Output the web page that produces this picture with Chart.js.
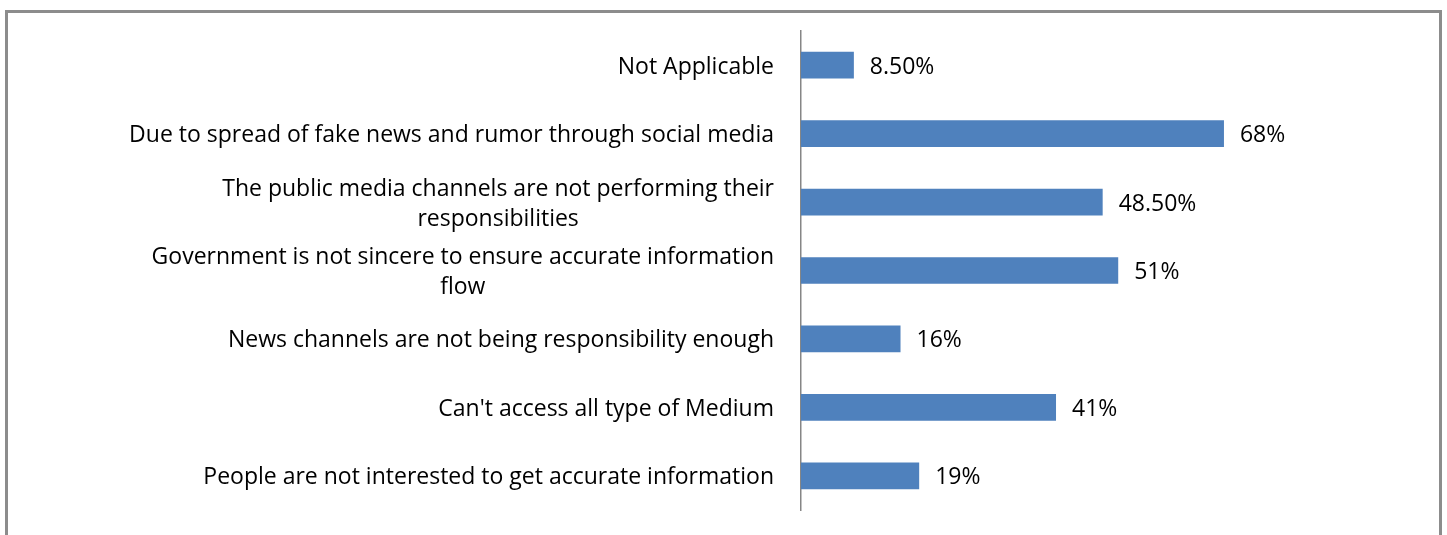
<!DOCTYPE html>
<html>
<head>
<meta charset="utf-8">
<script src="https://cdn.jsdelivr.net/npm/chart.js@4.4.1/dist/chart.umd.min.js"></script>
<style>
  html, body { margin: 0; padding: 0; background: #fff; overflow: hidden; }
  #wrap { position: relative; width: 1447px; height: 535px; }
  #frame { position: absolute; left: 5px; top: 10px; width: 1431px; height: 600px; border: 3px solid #8c8c8c; }
  canvas { position: absolute; left: 0; top: 0; }
</style>
</head>
<body>
<div id="wrap">
  <div id="frame"></div>
  <canvas id="myChart" width="1447" height="535"></canvas>
</div>
<script>
// reasons, top to bottom
var categories = [
    'Not Applicable',
    'Due to spread of fake news and rumor through social media',
    ['The public media channels are not performing their', 'responsibilities'],
    ['Government is not sincere to ensure accurate information', 'flow'],
    'News channels are not being responsibility enough',
    "Can't access all type of Medium",
    'People are not interested to get accurate information'
];
var percents = [8.5, 68, 48.5, 51, 16, 41, 19];

var FONT = '"Open Sans", "DejaVu Sans", sans-serif';
var FONT_SIZE = 23;
var TEXT_DY = 2;   // nudge text down a bit, middle baseline sits high

function fmtPct(v){
    return Number.isInteger(v) ? v + '%' : v.toFixed(2) + '%';
}

// category names left of the axis, multi-line ones centred on their widest line
const catLabels = {
    id: 'catLabels',
    afterDraw(chart){
        const ctx = chart.ctx;
        const y = chart.scales.y;
        const right = chart.chartArea.left - 27;
        const lh = 30;
        ctx.save();
        ctx.font = FONT_SIZE + 'px ' + FONT;
        ctx.fillStyle = '#000';
        ctx.textBaseline = 'middle';
        for (let i = 0; i < categories.length; i++) {
            const lines = Array.isArray(categories[i]) ? categories[i] : [categories[i]];
            const cy = y.getPixelForValue(i) + TEXT_DY;
            let w = 0;
            lines.forEach(l => { w = Math.max(w, ctx.measureText(l).width); });
            for (let j = 0; j < lines.length; j++) {
                const yy = cy + (j - (lines.length - 1) / 2) * lh;
                if (lines.length == 1) {
                    ctx.textAlign = 'right';
                    ctx.fillText(lines[j], right, yy);
                } else {
                    ctx.textAlign = 'center';
                    ctx.fillText(lines[j], right - w / 2, yy);
                }
            }
        }
        ctx.restore();
    }
};

// value after the end of each bar
const valueLabels = {
    id: 'valueLabels',
    afterDatasetsDraw(chart){
        const ctx = chart.ctx;
        const meta = chart.getDatasetMeta(0);
        ctx.save();
        ctx.font = FONT_SIZE + 'px ' + FONT;
        ctx.fillStyle = '#000';
        ctx.textAlign = 'left';
        ctx.textBaseline = 'middle';
        meta.data.forEach((bar, i) => {
            ctx.fillText(fmtPct(percents[i]), bar.x + 16, bar.y + TEXT_DY);
        });
        ctx.restore();
    }
};

function draw(){
    new Chart(document.getElementById('myChart'), {
        type: 'bar',
        data: {
            labels: categories,
            datasets: [{
                data: percents,
                backgroundColor: '#4f81bd',
                borderWidth: 0,
                categoryPercentage: 1,
                barPercentage: 0.39
            }]
        },
        options: {
            indexAxis: 'y',
            responsive: false,
            animation: false,
            events: [],
            layout: { padding: { top: 31, bottom: 25, right: 24, left: 0 } },
            plugins: {
                legend: { display: false },
                tooltip: { enabled: false }
            },
            scales: {
                x: {
                    display: false,
                    min: 0,
                    max: 100
                },
                y: {
                    grid: { display: false, drawTicks: false },
                    border: { display: true, color: '#868686', width: 1.5 },
                    ticks: { display: false },
                    afterFit: function(scale){ scale.width = 801; }
                }
            }
        },
        plugins: [catLabels, valueLabels]
    });
}

document.fonts.load(FONT_SIZE + 'px "Open Sans"').then(draw, draw);
</script>
</body>
</html>
